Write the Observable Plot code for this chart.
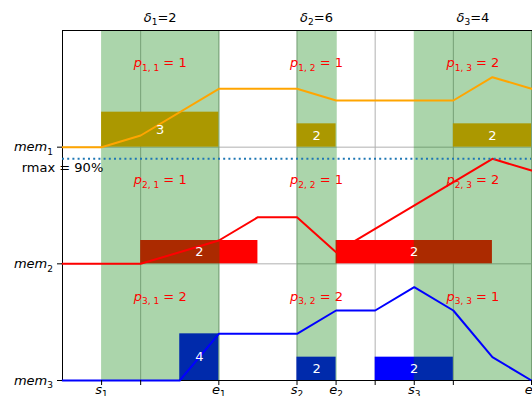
<!DOCTYPE html>
<html>
<head>
<meta charset="utf-8">
<script src="https://cdn.jsdelivr.net/npm/d3@7"></script>
<script src="https://cdn.jsdelivr.net/npm/@observablehq/plot@0.6"></script>
<style>
  html, body { margin: 0; padding: 0; background: white; }
</style>
</head>
<body>
<div id="chart"></div>
<script>
// ---- data ----
const spans = [[1, 4], [6, 7], [9, 12]];          // green windows [s_j, e_j]
const deltas = [2, 6, 4];                          // δ_j
const pVals = [[1, 1, 2], [1, 1, 2], [2, 2, 1]];   // p_{i,j}
const memNames = ["mem_{1}", "mem_{2}", "mem_{3}"];
const memLevel = [2, 1, 0];
const memColors = ["orange", "red", "blue"];

const xTicks = [1, 2, 4, 6, 7, 8, 9, 10, 12];
const xTickLabels = ["s_{1}", "", "e_{1}", "s_{2}", "e_{2}", "", "s_{3}", "", "e_{3}"];

const orangeX = [0, 1, 2, 4, 6, 7, 10, 11, 12];
const orangeY = [2, 2, 2.1, 2.5, 2.5, 2.4, 2.4, 2.6, 2.5];
const redX = [0, 2, 4, 5, 6, 7, 11, 12];
const redY = [1, 1, 1.2, 1.4, 1.4, 1.1, 1.9, 1.8];
const blueX = [0, 3, 4, 6, 7, 8, 9, 10, 11, 12];
const blueY = [0, 0, 0.4, 0.4, 0.6, 0.6, 0.8, 0.6, 0.2, 0];

// bars: [start, end, value] per memory
const orangeBars = [[1, 4, 3], [6, 7, 2], [10, 12, 2]];
const redBars = [[2, 5, 2], [7, 11, 2]];
const blueBars = [[3, 4, 4], [6, 7, 2], [8, 10, 2]];

const rmax = 0.9;
const rmaxLabel = "rmax = 90%";

// ---- derived tables ----
const lines = [
  {x: orangeX, y: orangeY, c: memColors[0]},
  {x: redX, y: redY, c: memColors[1]},
  {x: blueX, y: blueY, c: memColors[2]}
].flatMap((s, k) => s.x.map((x, i) => ({x, y: s.y[i], k, c: s.c})));

const bars = [orangeBars, redBars, blueBars].flatMap((bs, i) =>
  bs.map(([a, b, v]) => ({x1: a, x2: b, y1: memLevel[i], y2: memLevel[i] + v / 10, v, c: memColors[i]})));

const spanRows = spans.map(([a, b], j) => ({x1: a, x2: b, xc: (a + b) / 2, d: deltas[j], j}));

const pRows = pVals.flatMap((row, i) => row.map((v, j) => ({
  x: (spans[j][0] + spans[j][1]) / 2,
  y: memLevel[i] + 0.72,
  t: `p_{${i + 1}, ${j + 1}} = ${v}`
})));

const chart = Plot.plot({
  width: 532,
  height: 396,
  marginLeft: 62,
  marginRight: 1,
  marginTop: 30,
  marginBottom: 16,
  style: {fontFamily: "DejaVu Sans", fontSize: "13px", background: "white", overflow: "visible"},
  x: {domain: [0, 12]},
  y: {domain: [0, 3]},
  marks: [
    // grid
    Plot.ruleY([1, 2], {stroke: "#b0b0b0", strokeWidth: 1}),
    Plot.ruleX([2, 4, 6, 8, 10, 12], {stroke: "#b0b0b0", strokeWidth: 1}),
    // bars
    Plot.rectY(bars, {x1: "x1", x2: "x2", y1: "y1", y2: "y2", fill: "c", inset: 0}),
    // green windows on top of bars
    Plot.rect(spanRows, {x1: "x1", x2: d => d.x2 + 0.03, y1: 0, y2: 3, fill: "green", fillOpacity: 0.33, inset: 0}),
    // spines
    Plot.ruleX([0], {stroke: "black", strokeWidth: 1}),
    Plot.ruleY([0, 3], {stroke: "black", strokeWidth: 1, x1: 0, x2: 12.1}),
    // lines
    Plot.line(lines, {x: "x", y: "y", z: "k", stroke: "c", strokeWidth: 2}),
    // rmax
    Plot.ruleY([memLevel[1] + rmax], {x1: 0, x2: 12, stroke: "#1f77b4", strokeWidth: 2, strokeDasharray: "2,3.2"}),
    Plot.text([rmaxLabel], {x: 0, y: memLevel[1] + 0.82, text: d => d, fill: "black", fontSize: 13}),
    // bar labels
    Plot.text(bars, {x: d => (d.x1 + d.x2) / 2, y: d => (d.y1 + d.y2) / 2, text: d => String(d.v), fill: "white", fontSize: 13}),
    // p labels
    Plot.text(pRows, {x: "x", y: "y", text: "t", fill: "red", fontSize: 13}),
    // delta labels
    Plot.text(spanRows, {x: "xc", y: 3, dy: -13, text: d => `δ_{${d.j + 1}}=${d.d}`, fill: "black", fontSize: 13}),
    // axes
    Plot.axisY({ticks: memLevel, tickFormat: d => memNames[memLevel.indexOf(d)], tickSize: 5, tickPadding: 4.5, label: null, fontSize: 13}),
    Plot.axisX({ticks: xTicks, tickFormat: d => xTickLabels[xTicks.indexOf(d)], tickSize: 5, tickPadding: -1, label: null, fontSize: 13})
  ]
});

// render simple mathtext subscripts: "a_{b}c"
function mathify(root) {
  const ns = "http://www.w3.org/2000/svg";
  root.querySelectorAll("text").forEach(el => {
    if (el.querySelector("tspan")) return;
    const s = el.textContent;
    const m = s.match(/^(.*?)_\{(.*?)\}(.*)$/);
    if (!m) return;
    while (el.firstChild) el.removeChild(el.firstChild);
    const a = document.createElementNS(ns, "tspan");
    a.setAttribute("font-style", "italic");
    a.textContent = m[1];
    const b = document.createElementNS(ns, "tspan");
    b.setAttribute("font-size", "9px");
    b.setAttribute("dy", "3.5");
    b.textContent = m[2];
    el.appendChild(a);
    el.appendChild(b);
    if (m[3]) {
      const c = document.createElementNS(ns, "tspan");
      c.setAttribute("dy", "-3.5");
      c.textContent = m[3].replace(/ /g, "\u00a0");
      el.appendChild(c);
    }
  });
}
mathify(chart);
document.getElementById("chart").appendChild(chart);
</script>
</body>
</html>
